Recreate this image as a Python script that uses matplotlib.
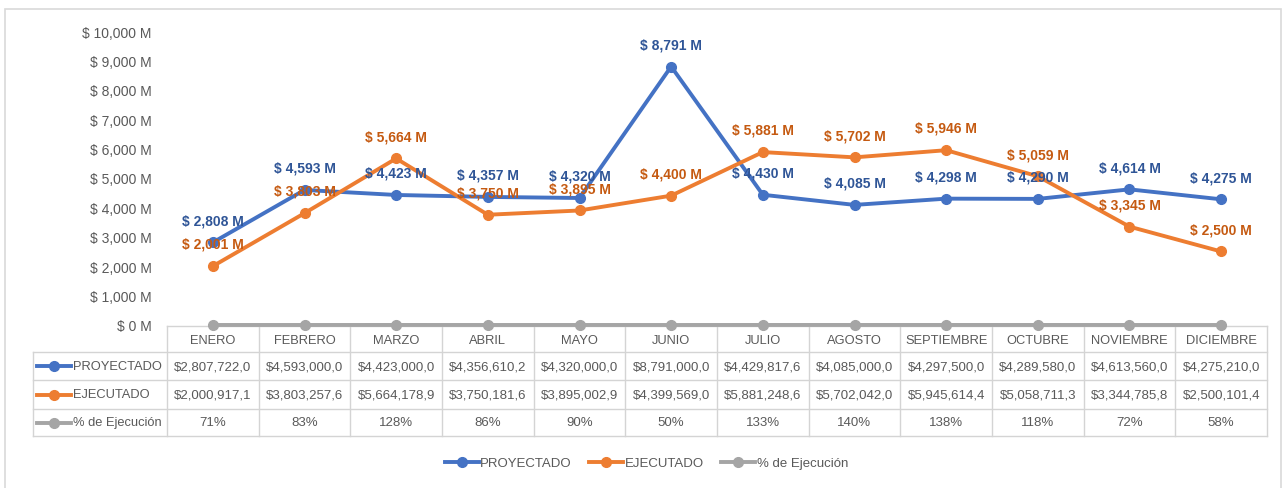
import matplotlib
matplotlib.use("Agg")
import matplotlib.pyplot as plt
import matplotlib.transforms as mtransforms
from matplotlib.lines import Line2D
from matplotlib.patches import Rectangle

plt.rcParams['font.family'] = ['Liberation Sans', 'DejaVu Sans']

meses = ['ENERO', 'FEBRERO', 'MARZO', 'ABRIL', 'MAYO', 'JUNIO', 'JULIO',
         'AGOSTO', 'SEPTIEMBRE', 'OCTUBRE', 'NOVIEMBRE', 'DICIEMBRE']
# valores en miles de pesos
proyectado = [2807722.0, 4593000.0, 4423000.0, 4356610.2, 4320000.0, 8791000.0,
              4429817.6, 4085000.0, 4297500.0, 4289580.0, 4613560.0, 4275210.0]
ejecutado = [2000917.1, 3803257.6, 5664178.9, 3750181.6, 3895002.9, 4399569.0,
             5881248.6, 5702042.0, 5945614.4, 5058711.3, 3344785.8, 2500101.4]
pct_ejecucion = [0.71, 0.83, 1.28, 0.86, 0.90, 0.50, 1.33, 1.40, 1.38, 1.18, 0.72, 0.58]
y_ticks = [0, 1000, 2000, 3000, 4000, 5000, 6000, 7000, 8000, 9000, 10000]

c_proy = '#4472C4'
c_ejec = '#ED7D31'
c_pct = '#A5A5A5'
c_proy_txt = '#2F5597'
c_ejec_txt = '#C55A11'
c_txt = '#595959'
c_grid = '#D4D4D4'
fs = 9.5

W, H = 1285, 489
fig = plt.figure(figsize=(W / 100, H / 100), dpi=100)
ax = fig.add_axes([167 / W, 1 - 326 / H, 1100 / W, 294 / H])

x = list(range(len(meses)))
proy_m = [v / 1000 for v in proyectado]
ejec_m = [v / 1000 for v in ejecutado]

series = [
    ('PROYECTADO', proy_m, c_proy, c_proy_txt),
    ('EJECUTADO', ejec_m, c_ejec, c_ejec_txt),
]
for nombre, vals, col, tcol in series:
    ax.plot(x, vals, color=col, lw=2.8, marker='o', ms=7, label=nombre, zorder=3)
    for xi, v in zip(x, vals):
        ax.annotate(f"$ {v:,.0f} M", (xi, v), xytext=(0, 16), textcoords='offset points',
                    ha='center', va='center', fontsize=10, fontweight='bold',
                    color=tcol, zorder=4)

ax.plot(x, pct_ejecucion, color=c_pct, lw=2.8, marker='o', ms=7,
        label='% de Ejecución', zorder=2, clip_on=False)

ax.set_xlim(-0.5, len(meses) - 0.5)
ax.set_ylim(0, 10000)
ax.set_yticks(y_ticks)
ax.set_yticklabels([f"$ {t:,.0f} M" for t in y_ticks])
ax.tick_params(axis='y', length=0, pad=11, labelsize=10, labelcolor=c_txt)
ax.set_xticks([])
for s in ax.spines.values():
    s.set_visible(False)

# tabla de datos bajo el eje
tr = mtransforms.blended_transform_factory(ax.transData, fig.transFigure)
col_w = 1100 / len(meses)
x_left = -0.5 - (167 - 33) / col_w
x_right = len(meses) - 0.5
rows_px = [327, 353, 381, 410, 437]
rows = [1 - r / H for r in rows_px]


def hline(x0, x1, y):
    ax.add_line(Line2D([x0, x1], [y, y], transform=tr, color=c_grid, lw=1,
                       clip_on=False, zorder=1))


def vline(xv, y0, y1):
    ax.add_line(Line2D([xv, xv], [y0, y1], transform=tr, color=c_grid, lw=1,
                       clip_on=False, zorder=1))


hline(-0.5, x_right, rows[0])
for r in rows[1:]:
    hline(x_left, x_right, r)
for i in range(len(meses) + 1):
    vline(i - 0.5, rows[0], rows[-1])
vline(x_left, rows[1], rows[-1])


def fmt_miles(v):
    s = f"{v:,.1f}"
    return "$" + s[:-2] + "," + s[-1]


tabla = [
    ('PROYECTADO', c_proy, [fmt_miles(v) for v in proyectado]),
    ('EJECUTADO', c_ejec, [fmt_miles(v) for v in ejecutado]),
    ('% de Ejecución', c_pct, [f"{p * 100:.0f}%" for p in pct_ejecucion]),
]

for i, m in enumerate(meses):
    ax.text(i, (rows[0] + rows[1]) / 2 - 1 / H, m, transform=tr, ha='center',
            va='center', fontsize=9.3, color=c_txt)

for k, (nombre, col, celdas) in enumerate(tabla):
    yc = (rows[k + 1] + rows[k + 2]) / 2
    icon_x0 = x_left + 4 / col_w
    icon_x1 = x_left + 38 / col_w
    ax.add_line(Line2D([icon_x0, icon_x1], [yc, yc], transform=tr, color=col, lw=2.8,
                       clip_on=False))
    ax.add_line(Line2D([(icon_x0 + icon_x1) / 2], [yc], transform=tr, color=col,
                       marker='o', ms=7, clip_on=False))
    ax.text(icon_x1 + 2 / col_w, yc, nombre, transform=tr, ha='left', va='center',
            fontsize=9.3, color=c_txt)
    for i, c in enumerate(celdas):
        ax.text(i, yc, c, transform=tr, ha='center', va='center', fontsize=fs,
                color=c_txt)

fig.legend(loc='center', bbox_to_anchor=(0.503, 1 - 464 / H), ncol=3, frameon=False,
           fontsize=fs, labelcolor=c_txt, handlelength=2.6, handletextpad=0.1,
           columnspacing=1.3)

fig.patches.append(Rectangle((5 / W, -0.05), 1276 / W, 1.05 - 10 / H,
                             transform=fig.transFigure, fill=False,
                             edgecolor='#D9D9D9', lw=1.2))

fig.savefig('out.png', dpi=100, facecolor='white')
